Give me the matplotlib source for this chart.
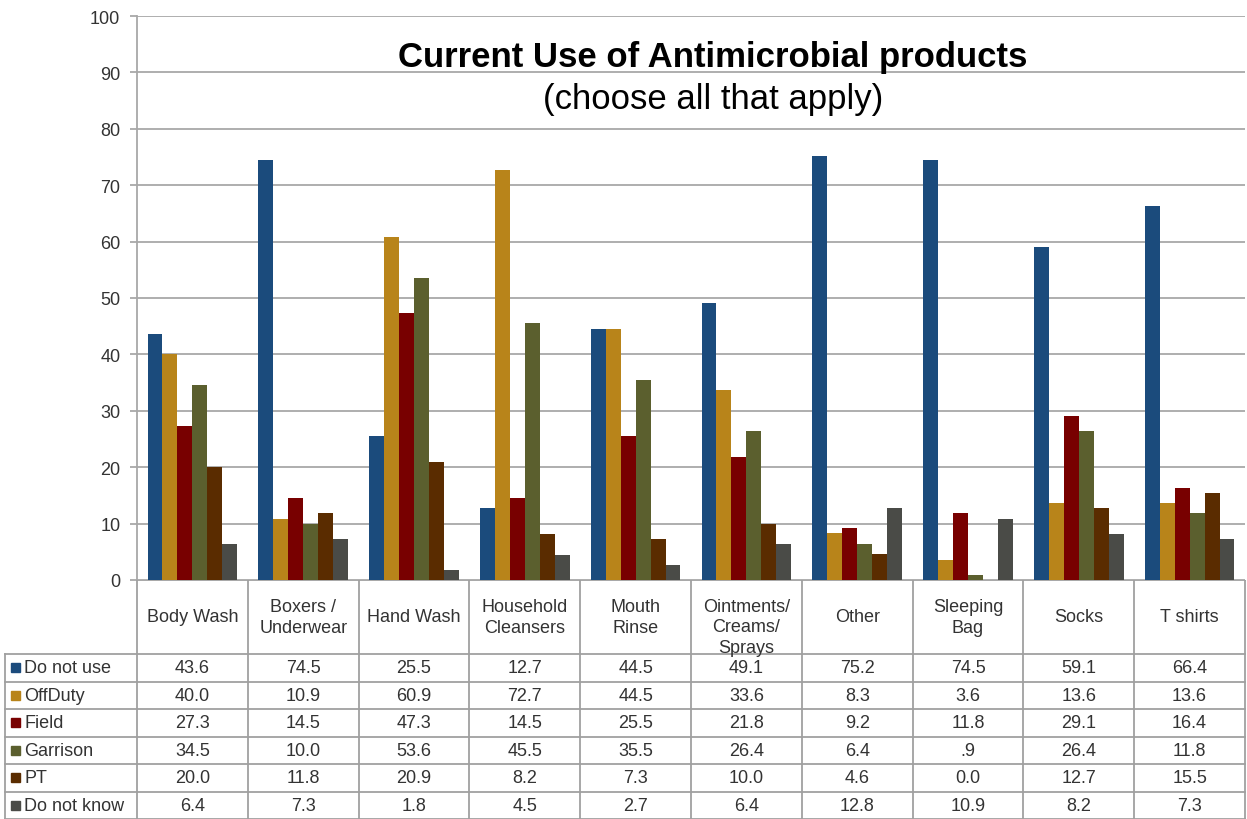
import numpy as np
import matplotlib
matplotlib.use('Agg')
import matplotlib.pyplot as plt

plt.rcParams['font.family'] = ['Liberation Sans', 'DejaVu Sans']

categories = ['Body Wash', 'Boxers /\nUnderwear', 'Hand Wash', 'Household\nCleansers', 'Mouth\nRinse',
              'Ointments/\nCreams/\nSprays', 'Other', 'Sleeping\nBag', 'Socks', 'T shirts']
series_names = ['Do not use', 'OffDuty', 'Field', 'Garrison', 'PT', 'Do not know']
do_not_use = [43.6, 74.5, 25.5, 12.7, 44.5, 49.1, 75.2, 74.5, 59.1, 66.4]
off_duty = [40.0, 10.9, 60.9, 72.7, 44.5, 33.6, 8.3, 3.6, 13.6, 13.6]
field = [27.3, 14.5, 47.3, 14.5, 25.5, 21.8, 9.2, 11.8, 29.1, 16.4]
garrison = [34.5, 10.0, 53.6, 45.5, 35.5, 26.4, 6.4, 0.9, 26.4, 11.8]
pt = [20.0, 11.8, 20.9, 8.2, 7.3, 10.0, 4.6, 0.0, 12.7, 15.5]
do_not_know = [6.4, 7.3, 1.8, 4.5, 2.7, 6.4, 12.8, 10.9, 8.2, 7.3]
colors = ['#1b4b7c', '#b8841a', '#780000', '#5b5f2e', '#5a2c00', '#4a4b47']

all_series = [do_not_use, off_duty, field, garrison, pt, do_not_know]


def fmt(v):
    s = '%.1f' % v
    if 0 < v < 1:
        s = s[1:]
    return s


W, H = 1247, 820
fig = plt.figure(figsize=(W / 100, H / 100), dpi=100)

# chart area (pixel geometry of the sheet)
x0, x1 = 137, 1245
ytop, ybot = 17, 581
ax = fig.add_axes([x0 / W, 1 - ybot / H, (x1 - x0) / W, (ybot - ytop) / H])
grid_c = '#a8a8a8'
n = len(categories)
bw = 0.135
x = np.arange(n) + 0.5
for j, vals in enumerate(all_series):
    ax.bar(x + (j - 2.5) * bw, vals, width=bw, color=colors[j], zorder=3)

ax.set_xlim(0, n)
ax.set_ylim(0, 100)
ax.set_yticks(range(0, 101, 10))
ax.set_xticks([])
ax.yaxis.grid(True, color=grid_c, linewidth=1.3, zorder=0)
for s in ['top', 'right', 'bottom']:
    ax.spines[s].set_visible(False)
ax.spines['left'].set_color(grid_c)
ax.spines['left'].set_linewidth(1.3)
ax.tick_params(axis='y', colors=grid_c, length=5, width=1.3, labelsize=13, labelcolor='#333333', pad=7)

fig.text(713 / W, 1 - 58 / H, 'Current Use of Antimicrobial products', ha='center', va='center',
         fontsize=25, fontweight='bold', color='black')
fig.text(713 / W, 1 - 99 / H, '(choose all that apply)', ha='center', va='center',
         fontsize=25, color='black')

# data table below the chart
tab = fig.add_axes([0, 0, 1, (H - ybot) / H])
tab.set_xlim(0, W)
tab.set_ylim(H, ybot)
tab.axis('off')
col_w = (x1 - x0) / n
head_bot = 655
row_h = (H - head_bot) / 6
lc = '#a0a0a0'
lw = 1.3
tab.plot([x0, x1], [ybot, ybot], color=lc, lw=lw)
for k in range(n + 1):
    xx = x0 + k * col_w
    tab.plot([xx, xx], [ybot, H], color=lc, lw=lw)
tab.plot([5, 5], [head_bot, H], color=lc, lw=lw)
for r in range(7):
    yy = head_bot + r * row_h
    tab.plot([5, x1], [yy, yy], color=lc, lw=lw)

txt_c = '#333333'
for i, cat in enumerate(categories):
    cy = 628 if cat.count('\n') == 2 else 618
    tab.text(x0 + (i + 0.5) * col_w, cy, cat, ha='center', va='center', fontsize=13,
             color=txt_c, linespacing=1.25)

for j, (name, vals) in enumerate(zip(series_names, all_series)):
    cy = head_bot + (j + 0.5) * row_h
    tab.add_patch(plt.Rectangle((11, cy - 4.5), 9, 9, color=colors[j]))
    tab.text(24, cy, name, ha='left', va='center', fontsize=13, color=txt_c)
    for i, v in enumerate(vals):
        tab.text(x0 + (i + 0.5) * col_w, cy, fmt(v), ha='center', va='center', fontsize=13, color=txt_c)

fig.savefig('out.png', dpi=100, facecolor='white')
